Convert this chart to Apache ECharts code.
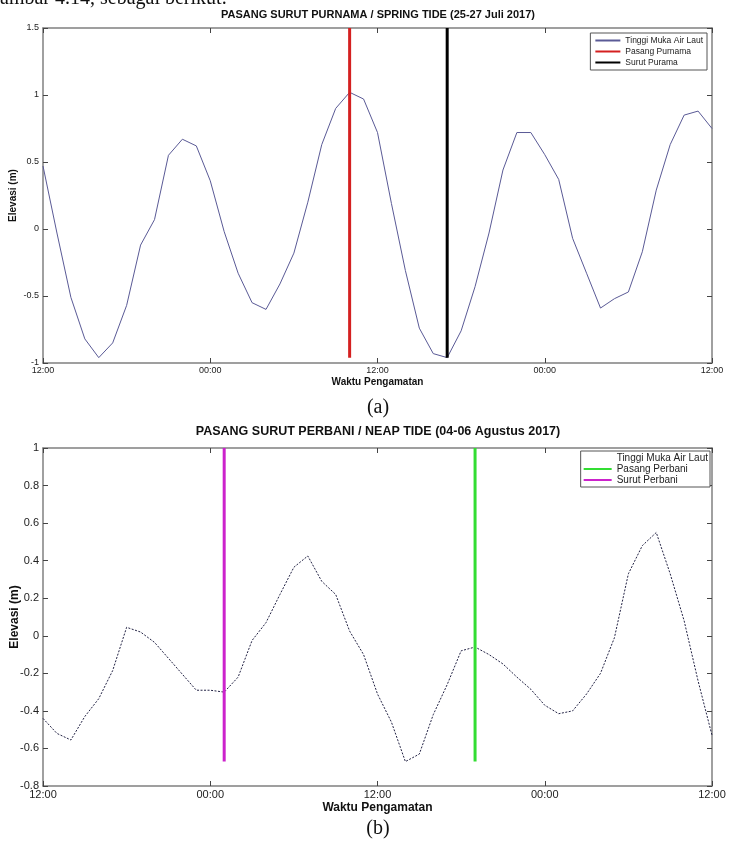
<!DOCTYPE html>
<html><head><meta charset="utf-8">
<script src="https://cdn.jsdelivr.net/npm/echarts@6/dist/echarts.min.js"></script>
<style>
html,body{margin:0;padding:0;background:#fff;width:730px;height:845px;overflow:hidden}
#a{position:absolute;left:0;top:0;width:730px;height:420px}
#b{position:absolute;left:0;top:420px;width:730px;height:425px}
</style></head><body><div id="a"></div><div id="b"></div>
<script>
// hours since 12:00 of first day
const hours = [0,1,2,3,4,5,6,7,8,9,10,11,12,13,14,15,16,17,18,19,20,21,22,23,24,25,26,27,28,29,30,31,32,33,34,35,36,37,38,39,40,41,42,43,44,45,46,47,48];
const xTickLabels = ['12:00','00:00','12:00','00:00','12:00'];

// (a) Spring tide 25-27 Juli 2017
const springElev = [0.47,-0.03,-0.51,-0.82,-0.96,-0.85,-0.57,-0.12,0.07,0.55,0.67,0.62,0.36,-0.02,-0.33,-0.55,-0.60,-0.41,-0.18,0.20,0.63,0.90,1.02,0.97,0.72,0.19,-0.31,-0.74,-0.93,-0.96,-0.76,-0.43,-0.03,0.44,0.72,0.72,0.555,0.37,-0.07,-0.33,-0.59,-0.52,-0.47,-0.17,0.29,0.63,0.85,0.88,0.75];
const springHighHour = 22;
const springLowHour = 29;
const springYTicks = ['-1','-0.5','0','0.5','1','1.5'];

// (b) Neap tide 04-06 Agustus 2017
const neapElev = [-0.44,-0.52,-0.555,-0.43,-0.335,-0.185,0.045,0.02,-0.035,-0.12,-0.205,-0.29,-0.29,-0.30,-0.22,-0.025,0.07,0.22,0.365,0.425,0.29,0.22,0.025,-0.10,-0.31,-0.46,-0.67,-0.63,-0.42,-0.26,-0.08,-0.06,-0.10,-0.15,-0.22,-0.285,-0.37,-0.415,-0.40,-0.31,-0.20,-0.01,0.33,0.48,0.55,0.33,0.08,-0.24,-0.53];
const neapHighHour = 31;
const neapLowHour = 13;
const neapYTicks = ['-0.8','-0.6','-0.4','-0.2','0','0.2','0.4','0.6','0.8','1'];

const FONT = 'Liberation Sans, Arial, sans-serif';

function build(cfg){
  const axLine = {show:true, onZero:false, lineStyle:{color:'#808080', width:1.5}};
  const tick = {show:true, inside:true, length:5, lineStyle:{color:'#444', width:1}};
  const pairs = hours.map((h,i)=>[h, cfg.elev[i]]);
  const lo = Math.min(...cfg.elev);
  const mk = (name, h, color) => ({
    name, type:'line', symbol:'none', silent:true,
    data:[[h, lo],[h, cfg.ymax]],
    lineStyle:{color, width:3}, z:3
  });
  return {
    animation:false,
    backgroundColor:'#fff',
    grid:{left:43, top:cfg.top, width:669, height:cfg.height, show:false, containLabel:false, outerBoundsMode:'none'},
    xAxis:[
      {type:'value', min:0, max:48, interval:12, position:'bottom',
       axisLine:axLine, axisTick:tick, splitLine:{show:false},
       axisLabel:{formatter:v=>xTickLabels[Math.round(v/12)], color:'#222', fontSize:cfg.fs, fontFamily:FONT, margin:cfg.xLabMargin},
       name:'Waktu Pengamatan', nameLocation:'middle', nameGap:cfg.xNameGap, nameMoveOverlap:false,
       nameTextStyle:{fontWeight:'bold', fontSize:cfg.fs+1, color:'#111', fontFamily:FONT}},
      {type:'value', min:0, max:48, interval:12, position:'top',
       axisLine:axLine, axisTick:tick, splitLine:{show:false}, axisLabel:{show:false}}
    ],
    yAxis:[
      {type:'value', min:cfg.ymin, max:cfg.ymax, interval:cfg.yint, position:'left',
       axisLine:axLine, axisTick:tick, splitLine:{show:false},
       axisLabel:{formatter:v=>cfg.yTicks[Math.round((v-cfg.ymin)/cfg.yint)], color:'#222', fontSize:cfg.fs, fontFamily:FONT, margin:4},
       name:'Elevasi (m)', nameLocation:'middle', nameGap:cfg.yNameGap, nameMoveOverlap:false,
       nameTextStyle:{fontWeight:'bold', fontSize:cfg.fs+1, color:'#111', fontFamily:FONT}},
      {type:'value', min:cfg.ymin, max:cfg.ymax, interval:cfg.yint, position:'right',
       axisLine:axLine, axisTick:tick, splitLine:{show:false}, axisLabel:{show:false}}
    ],
    legend:{
      orient:'vertical', right:cfg.legRight, top:cfg.legTop,
      backgroundColor:'#fff', borderColor:'#555', borderWidth:1, borderRadius:0,
      padding:cfg.legPad, itemGap:cfg.legGap, itemWidth:cfg.legIconW, itemHeight:cfg.legIconH,
      itemStyle:{opacity:0},
      textStyle:{fontSize:cfg.legFs, color:'#222', fontFamily:FONT},
      data: cfg.legendData
    },
    graphic: cfg.graphic,
    series:[
      {name:'Tinggi Muka Air Laut', type:'line', symbol:'none', data:pairs,
       lineStyle:cfg.mainStyle, z:2},
      mk(cfg.highName, cfg.highHour, cfg.highColor),
      mk(cfg.lowName, cfg.lowHour, cfg.lowColor)
    ]
  };
}

const chartA = echarts.init(document.getElementById('a'), null, {renderer:'canvas'});
chartA.setOption(build({
  top:28, height:335, elev:springElev, ymin:-1, ymax:1.5, yint:0.5, yTicks:springYTicks,
  fs:9, xLabMargin:3, xNameGap:14, yNameGap:25,
  legRight:23, legTop:33, legPad:[3,4,3,4], legGap:2, legIconW:25, legIconH:9, legFs:8.5,
  legendData:['Tinggi Muka Air Laut','Pasang Purnama','Surut Purama'],
  mainStyle:{color:'#5a5a96', width:1},
  highName:'Pasang Purnama', highHour:springHighHour, highColor:'#d42020',
  lowName:'Surut Purama', lowHour:springLowHour, lowColor:'#000000',
  graphic:[
    {type:'text', x:0, y:-11, style:{text:'ambar 4.14, sebagai berikut:', font:'20px Liberation Serif, serif', fill:'#111'}},
    {type:'text', x:378, y:15, style:{text:'PASANG SURUT PURNAMA / SPRING TIDE (25-27 Juli 2017)', font:'bold 11px Liberation Sans, Arial, sans-serif', fill:'#111', align:'center', verticalAlign:'middle'}},
    {type:'text', x:378, y:408, style:{text:'(a)', font:'20px Liberation Serif, serif', fill:'#111', align:'center', verticalAlign:'middle'}}
  ]
}));

const chartB = echarts.init(document.getElementById('b'), null, {renderer:'canvas'});
chartB.setOption(build({
  top:28, height:338, elev:neapElev, ymin:-0.8, ymax:1, yint:0.2, yTicks:neapYTicks,
  fs:11, xLabMargin:3, xNameGap:16, yNameGap:22,
  legRight:20, legTop:31, legPad:[2,2,2,2], legGap:1, legIconW:28, legIconH:10, legFs:10,
  legendData:[{name:'Tinggi Muka Air Laut', lineStyle:{color:'rgba(0,0,0,0)'}},'Pasang Perbani','Surut Perbani'],
  mainStyle:{color:'#222244', width:1, type:[2,1.5]},
  highName:'Pasang Perbani', highHour:neapHighHour, highColor:'#33dd33',
  lowName:'Surut Perbani', lowHour:neapLowHour, lowColor:'#cc22cc',
  graphic:[
    {type:'text', x:378, y:12, style:{text:'PASANG SURUT PERBANI / NEAP TIDE (04-06 Agustus 2017)', font:'bold 12.5px Liberation Sans, Arial, sans-serif', fill:'#111', align:'center', verticalAlign:'middle'}},
    {type:'text', x:378, y:409, style:{text:'(b)', font:'20px Liberation Serif, serif', fill:'#111', align:'center', verticalAlign:'middle'}}
  ]
}));
</script></body></html>
